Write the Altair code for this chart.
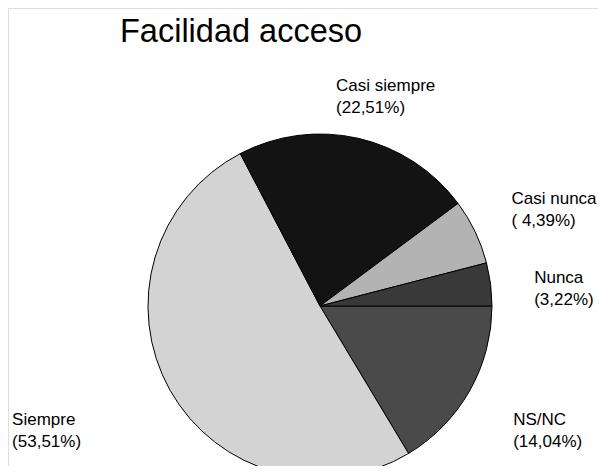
import math
import altair as alt
import pandas as pd

# Categories in drawing order (clockwise starting at 3 o'clock)
categories = ["NS/NC", "Siempre", "Casi siempre", "Casi nunca", "Nunca"]
pct_labels = ["14,04%", "53,51%", "22,51%", " 4,39%", "3,22%"]
# share of the circle each slice occupies in the drawing (percent)
slice_share = [16.39, 50.94, 22.50, 6.14, 4.03]
colors = ["#4a4a4a", "#d3d3d3", "#131313", "#b3b3b3", "#393939"]
title_text = "Facilidad acceso"

df = pd.DataFrame({
    "cat": categories,
    "share": slice_share,
    "ord": list(range(len(categories))),
    "label": [f"{c}\n({p})" for c, p in zip(categories, pct_labels)],
})

CX, CY, R = 312, 298, 172
FONT = "Liberation Sans"

theta = alt.Theta("share:Q", stack=True,
                  scale=alt.Scale(range=[math.pi / 2, math.pi / 2 + 2 * math.pi]))
order = alt.Order("ord:Q")

base = alt.Chart(df)

pie = base.mark_arc(outerRadius=R, stroke="black", strokeWidth=1).encode(
    theta=theta,
    order=order,
    x=alt.value(CX),
    y=alt.value(CY),
    color=alt.Color("cat:N", scale=alt.Scale(domain=categories, range=colors), legend=None),
)

# label placement per slice: radius, dx, dy
label_style = {
    "Casi siempre": (220, -33, -1),
    "Casi nunca": (230, -16, -3),
    "Nunca": (230, -14, 6),
    "NS/NC": (230, -7, 6),
    "Siempre": (290, -55, -23),
}

layers = [pie]
for cat, (rad, ddx, ddy) in label_style.items():
    layers.append(
        base.mark_text(
            radius=rad, dx=ddx, dy=ddy, align="left", baseline="alphabetic",
            font=FONT, fontSize=17, lineBreak="\n", lineHeight=22, color="black",
        ).encode(
            theta=theta,
            order=order,
            x=alt.value(CX),
            y=alt.value(CY),
            text=alt.condition(alt.datum.cat == cat, alt.Text("label:N"), alt.value("")),
        )
    )

title = alt.Chart(pd.DataFrame({"t": [title_text]})).mark_text(
    align="left", baseline="alphabetic", font=FONT, fontSize=32.5, color="black"
).encode(x=alt.value(112), y=alt.value(34), text="t:N")
layers.append(title)

chart = alt.layer(*layers).properties(
    width=590, height=458, padding=0,
    autosize=alt.AutoSizeParams(type="none"),
).configure_view(stroke=None).configure(background="white")

chart.save("out.html", embed_options={"renderer": "svg", "actions": False})
